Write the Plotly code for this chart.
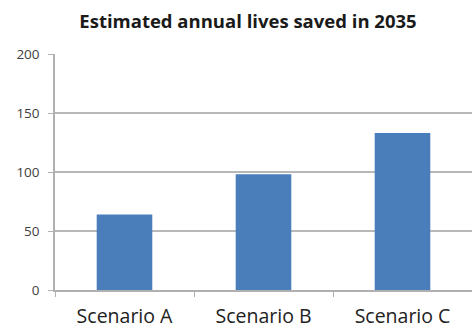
import plotly.graph_objects as go

categories = ["Scenario A", "Scenario B", "Scenario C"]
values = [64, 98, 133]
y_ticks = [0, 50, 100, 150, 200]

fig = go.Figure(go.Bar(
    x=categories, y=values, width=0.4,
    marker=dict(color="#4a7ebb", line=dict(width=0)),
))

fig.update_layout(
    width=472, height=331,
    margin=dict(l=55, r=0, t=54, b=41),
    paper_bgcolor="white", plot_bgcolor="white",
    showlegend=False,
    title=dict(text="<b>Estimated annual lives saved in 2035</b>",
               x=248/472, xanchor="center", y=1-22/331, yanchor="middle",
               font=dict(family="Open Sans", size=18.5, color="#1a1a1a")),
    font=dict(family="Open Sans", color="#333333"),
)
fig.update_xaxes(
    showline=True, linecolor="#b0b0b0", linewidth=1.5,
    ticks="outside", tickson="boundaries", ticklen=5, tickcolor="#b0b0b0",
    tickfont=dict(size=19.5, color="#222222"),
    ticklabelstandoff=8,
    showgrid=False,
)
fig.update_yaxes(
    range=[0, 200], tickvals=y_ticks,
    showline=True, linecolor="#b0b0b0", linewidth=1.5,
    ticks="outside", ticklen=5, tickcolor="#b0b0b0",
    showgrid=True, gridcolor="#b8b8b8", gridwidth=1.5,
    zeroline=False,
    ticklabelstandoff=6,
    tickfont=dict(size=13.5, color="#404040"),
)
fig.write_html("out.html")
